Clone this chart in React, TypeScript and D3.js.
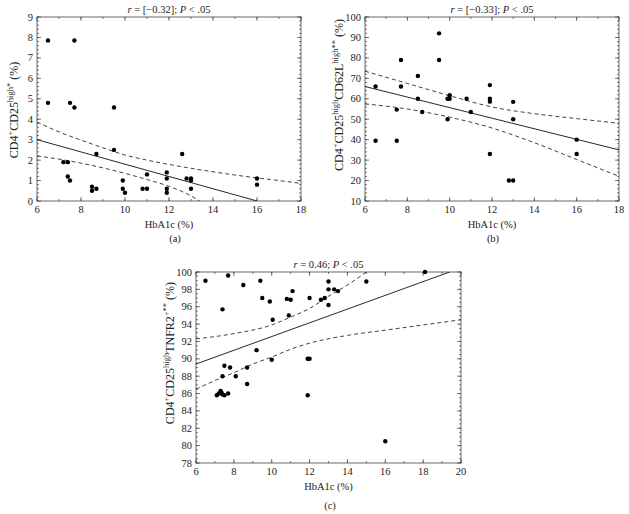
import React from 'react';
import * as d3 from 'd3';

// ---------- Panel (a) ----------
const aHbA1c = [6.5, 7.7, 6.5, 7.5, 7.7, 9.5, 9.5, 8.7, 12.6, 7.2, 7.4, 7.4, 7.5, 8.5, 8.5, 8.7, 9.9, 9.9, 10, 10.8, 11, 11, 11.9, 11.9, 11.9, 11.9, 12.8, 13, 13, 13, 16, 16];
const aTreg = [7.85, 7.85, 4.8, 4.8, 4.57, 4.57, 2.5, 2.3, 2.3, 1.9, 1.9, 1.2, 1.0, 0.7, 0.5, 0.6, 1.0, 0.6, 0.4, 0.6, 0.6, 1.3, 1.4, 1.1, 0.6, 0.4, 1.1, 1.1, 1.0, 0.6, 1.1, 0.8];
const aFitX = [6, 16];
const aFitY = [3.0, 0];
const aUpperX = [6, 7, 8, 9, 10, 11, 12, 13, 14, 15, 16, 17, 18];
const aUpperY = [3.86, 3.38, 2.98, 2.6, 2.25, 2.0, 1.79, 1.6, 1.43, 1.27, 1.13, 1.0, 0.86];
const aLowerX = [6, 7, 8, 9, 10, 11, 12, 13, 13.4];
const aLowerY = [2.2, 2.05, 1.85, 1.62, 1.35, 1.05, 0.72, 0.25, 0];

// ---------- Panel (b) ----------
const bHbA1c = [6.5, 6.5, 7.5, 7.5, 7.7, 7.7, 8.5, 8.5, 8.7, 9.5, 9.5, 9.9, 9.9, 10, 10, 10.8, 11, 11.9, 11.9, 11.9, 11.9, 12.8, 13, 13, 13, 16, 16];
const bTreg = [66, 39.5, 54.7, 39.5, 79, 66, 71.2, 60, 53.5, 92, 79, 50, 60, 60, 61.7, 60, 53.5, 66.7, 60, 58.6, 33, 20, 20, 58.5, 50, 40, 33];
const bFitX = [6, 18];
const bFitY = [66, 35];
const bUpperX = [6, 8, 10, 12, 14, 16, 18];
const bUpperY = [73.5, 67.5, 61.5, 56, 52.7, 50.3, 48];
const bLowerX = [6, 8, 10, 12, 14, 16, 18];
const bLowerY = [57.5, 55, 51, 45.7, 38.5, 30.3, 22.1];

// ---------- Panel (c) ----------
const cHbA1c = [6.5, 7.7, 7.4, 8.5, 9.4, 9.5, 9.9, 10.05, 10.8, 11.0, 11.1, 10.9, 12.0, 12.6, 12.8, 13, 13, 13, 13.3, 13.5, 15, 18.1, 9.2, 10.0, 11.9, 12.0, 7.5, 7.4, 7.8, 8.1, 8.7, 8.7, 7.1, 7.2, 7.3, 7.35, 7.4, 7.5, 7.7, 11.9, 16];
const cTreg = [99, 99.6, 95.7, 98.5, 99, 97, 96.6, 94.5, 96.9, 96.8, 97.8, 95, 97, 96.8, 97, 98.9, 98, 96.2, 98, 97.8, 98.9, 100, 91, 89.9, 90, 90, 89.2, 88, 89, 88, 89, 87.1, 85.8, 86, 86.3, 86.1, 85.9, 85.8, 86, 85.8, 80.5];
const cFitX = [6, 19.4];
const cFitY = [89.4, 100];
const cUpperX = [6, 8, 10, 11, 12, 13, 14, 15];
const cUpperY = [92.3, 92.9, 93.9, 94.8, 95.8, 97.2, 98.5, 100];
const cLowerX = [6, 7, 8, 9, 10, 11, 12, 14, 16, 18, 20];
const cLowerY = [86.5, 87.5, 88.4, 89.4, 90.2, 91.1, 91.8, 92.7, 93.3, 93.9, 94.5];

// ---------- text ----------
const aTitle = ['r', ' = [−0.32]; ', 'P', ' < .05'];
const bTitle = ['r', ' = [−0.33]; ', 'P', ' < .05'];
const cTitle = ['r', ' = 0.46; ', 'P', ' < .05'];
const aYLabel: [string, boolean][] = [['CD4', false], ['+', true], ['CD25', false], ['high*', true], [' (%)', false]];
const bYLabel: [string, boolean][] = [['CD4', false], ['+', true], ['CD25', false], ['high', true], ['CD62L', false], ['high**', true], [' (%)', false]];
const cYLabel: [string, boolean][] = [['CD4', false], ['+', true], ['CD25', false], ['high', true], ['TNFR2', false], ['+**', true], [' (%)', false]];
const xLabel = 'HbA1c (%)';

const FONT = "'Liberation Serif', 'Times New Roman', Times, serif";
const INK = '#222';

type PanelProps = {
  id: string;
  left: number; right: number; top: number; bottom: number;
  xDom: [number, number]; yDom: [number, number];
  xMajor: number; xMinor: number; yMajor: number; yMinor: number;
  xs: number[]; ys: number[];
  fitX: number[]; fitY: number[];
  upX: number[]; upY: number[];
  loX: number[]; loY: number[];
  title: string[]; yLabel: [string, boolean][];
  yLabelX: number; yLabelY: number;
  letter: string; letterX: number; letterY: number;
};

function ticksFor(dom: [number, number], step: number) {
  const n = Math.round((dom[1] - dom[0]) / step);
  return d3.range(n + 1).map((i) => +(dom[0] + i * step).toFixed(6));
}

function Panel(p: PanelProps) {
  const x = d3.scaleLinear().domain(p.xDom).range([p.left, p.right]);
  const y = d3.scaleLinear().domain(p.yDom).range([p.bottom, p.top]);
  const line = d3.line<[number, number]>().x((d) => x(d[0])).y((d) => y(d[1]));
  const curve = d3.line<[number, number]>().x((d) => x(d[0])).y((d) => y(d[1])).curve(d3.curveMonotoneX);
  const fitPts = p.fitX.map((v, i) => [v, p.fitY[i]] as [number, number]);
  const upPts = p.upX.map((v, i) => [v, p.upY[i]] as [number, number]);
  const loPts = p.loX.map((v, i) => [v, p.loY[i]] as [number, number]);
  const xMaj = ticksFor(p.xDom, p.xMajor);
  const xMin = ticksFor(p.xDom, p.xMinor);
  const yMaj = ticksFor(p.yDom, p.yMajor);
  const yMin = ticksFor(p.yDom, p.yMinor);
  const M = 4, m = 2;
  const tickStroke = { stroke: '#444', strokeWidth: 0.7 };
  const cx = (p.left + p.right) / 2;
  return (
    <g>
      <defs>
        <clipPath id={`clip-${p.id}`}>
          <rect x={p.left} y={p.top} width={p.right - p.left} height={p.bottom - p.top} />
        </clipPath>
      </defs>
      {xMin.map((t) => (
        <g key={`xm${t}`}>
          <line x1={x(t)} x2={x(t)} y1={p.bottom} y2={p.bottom - m} {...tickStroke} />
          <line x1={x(t)} x2={x(t)} y1={p.top} y2={p.top + m} {...tickStroke} />
        </g>
      ))}
      {xMaj.map((t) => (
        <g key={`xM${t}`}>
          <line x1={x(t)} x2={x(t)} y1={p.bottom} y2={p.bottom - M} {...tickStroke} />
          <line x1={x(t)} x2={x(t)} y1={p.top} y2={p.top + M} {...tickStroke} />
          <text x={x(t)} y={p.bottom + 12} textAnchor="middle" fontSize={10.5} fill={INK}>{t}</text>
        </g>
      ))}
      {yMin.map((t) => (
        <g key={`ym${t}`}>
          <line x1={p.left} x2={p.left + m} y1={y(t)} y2={y(t)} {...tickStroke} />
          <line x1={p.right} x2={p.right - m} y1={y(t)} y2={y(t)} {...tickStroke} />
        </g>
      ))}
      {yMaj.map((t) => (
        <g key={`yM${t}`}>
          <line x1={p.left} x2={p.left + M} y1={y(t)} y2={y(t)} {...tickStroke} />
          <line x1={p.right} x2={p.right - M} y1={y(t)} y2={y(t)} {...tickStroke} />
          <text x={p.left - 4} y={y(t) + 3.5} textAnchor="end" fontSize={10.5} fill={INK}>{t}</text>
        </g>
      ))}
      <rect x={p.left} y={p.top} width={p.right - p.left} height={p.bottom - p.top} fill="none" stroke="#444" strokeWidth={0.8} />
      <g clipPath={`url(#clip-${p.id})`} fill="none" stroke="#111">
        <path d={line(fitPts) || ''} strokeWidth={0.9} />
        <path d={curve(upPts) || ''} strokeWidth={0.8} strokeDasharray="4,3" />
        <path d={curve(loPts) || ''} strokeWidth={0.8} strokeDasharray="4,3" />
      </g>
      {p.xs.map((v, i) => (
        <circle key={i} cx={x(v)} cy={y(p.ys[i])} r={2.2} fill="#000" />
      ))}
      <text x={cx} y={p.top - 4} textAnchor="middle" fontSize={10.5} fill={INK} style={{ whiteSpace: 'pre' }}>
        {p.title.map((s, i) => (
          <tspan key={i} fontStyle={i % 2 === 0 ? 'italic' : 'normal'}>{s}</tspan>
        ))}
      </text>
      <text x={cx} y={p.bottom + 27} textAnchor="middle" fontSize={10.5} fill={INK}>{xLabel}</text>
      <text transform={`translate(${p.yLabelX},${p.yLabelY}) rotate(-90)`} textAnchor="middle" fontSize={12} fill={INK} style={{ whiteSpace: 'pre' }}>
        {p.yLabel.map(([s, sup], i) => {
          const prevSup = i > 0 && p.yLabel[i - 1][1];
          const dy = sup && !prevSup ? -5 : !sup && prevSup ? 5 : 0;
          return (
            <tspan key={i} dy={dy} fontSize={sup ? 8.5 : 12}>{s}</tspan>
          );
        })}
      </text>
      <text x={p.letterX} y={p.letterY} textAnchor="middle" fontSize={10.5} fill={INK}>{p.letter}</text>
    </g>
  );
}

export default function App() {
  return (
    <svg width={629} height={514} style={{ position: 'absolute', left: 0, top: 0, background: '#fff', fontFamily: FONT }}>
      <rect width={629} height={514} fill="#fff" />
      <Panel id="a" left={37} right={301} top={17} bottom={201} xDom={[6, 18]} yDom={[0, 9]}
        xMajor={2} xMinor={1} yMajor={1} yMinor={0.2}
        xs={aHbA1c} ys={aTreg} fitX={aFitX} fitY={aFitY} upX={aUpperX} upY={aUpperY} loX={aLowerX} loY={aLowerY}
        title={aTitle} yLabel={aYLabel} yLabelX={18} yLabelY={110} letter="(a)" letterX={175} letterY={242} />
      <Panel id="b" left={365} right={619} top={17} bottom={201} xDom={[6, 18]} yDom={[10, 100]}
        xMajor={2} xMinor={1} yMajor={10} yMinor={2}
        xs={bHbA1c} ys={bTreg} fitX={bFitX} fitY={bFitY} upX={bUpperX} upY={bUpperY} loX={bLowerX} loY={bLowerY}
        title={bTitle} yLabel={bYLabel} yLabelX={343} yLabelY={95} letter="(b)" letterX={493} letterY={242} />
      <Panel id="c" left={196} right={461} top={272} bottom={463} xDom={[6, 20]} yDom={[78, 100]}
        xMajor={2} xMinor={1} yMajor={2} yMinor={0.5}
        xs={cHbA1c} ys={cTreg} fitX={cFitX} fitY={cFitY} upX={cUpperX} upY={cUpperY} loX={cLowerX} loY={cLowerY}
        title={cTitle} yLabel={cYLabel} yLabelX={174} yLabelY={353} letter="(c)" letterX={330} letterY={509} />
    </svg>
  );
}
